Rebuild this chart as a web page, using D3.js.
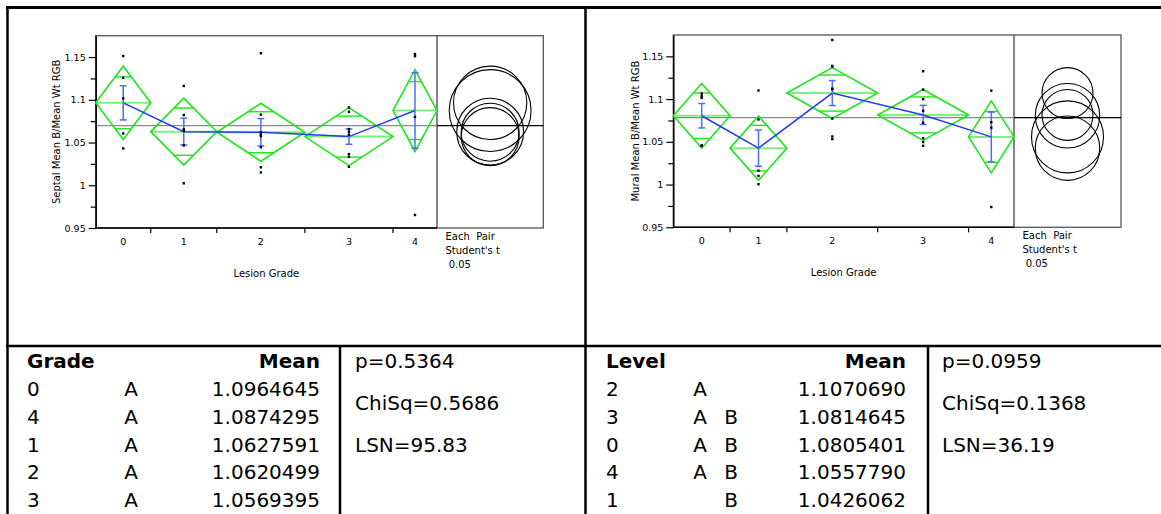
<!DOCTYPE html>
<html>
<head>
<meta charset="utf-8">
<script src="https://cdn.jsdelivr.net/npm/d3@7"></script>
<style>
  body { margin: 0; background: #fff; }
  svg { display: block; }
  text { font-family: "DejaVu Sans", Verdana, sans-serif; fill: #000; }
</style>
</head>
<body>
<svg id="chart" width="1161" height="514"></svg>
<script>
// ---- data -------------------------------------------------------------
const grades = ["0", "1", "2", "3", "4"];

// Septal ratio, individual observations per lesion grade
const septalPoints = [
  [1.1512, 1.1258, 1.1016, 1.0606, 1.0431],
  [1.1162, 1.0822, 1.0655, 1.0636, 1.0467, 1.0023],
  [1.1545, 1.0827, 1.0620, 1.0593, 1.0575, 1.0444, 1.0210, 1.0150],
  [1.0910, 1.0860, 1.0657, 1.0625, 1.0590, 1.0364, 1.0333, 1.0216],
  [1.1535, 1.1510, 1.0800, 0.9652]
];
const septalMeans = [1.0964645, 1.0627591, 1.0620499, 1.0569395, 1.0874295];
const septalCI = [0.0429, 0.0391, 0.0339, 0.0339, 0.0479];   // 95% half width
const septalSE = [0.0200, 0.0157, 0.0160, 0.0090, 0.0442];   // std error

// Mural ratio, individual observations per lesion grade
const muralPoints = [
  [1.1065, 1.1037, 1.1014, 1.0458, 1.0453],
  [1.1101, 1.0762, 1.0163, 1.0100, 1.0004],
  [1.1692, 1.1388, 1.1380, 1.1123, 1.1115, 1.0773, 1.0563, 1.0532],
  [1.1326, 1.1112, 1.0999, 1.0863, 1.0723, 1.0543, 1.0497, 1.0454],
  [1.1099, 1.0729, 1.0666, 0.9737]
];
const muralMeans = [1.0805401, 1.0426062, 1.1070690, 1.0814645, 1.0557790];
const muralCI = [0.0377, 0.0377, 0.0298, 0.0298, 0.0421];
const muralSE = [0.0143, 0.0212, 0.0146, 0.0112, 0.0290];

const yMajor = [0.95, 1, 1.05, 1.1, 1.15];
const yMinor = [0.975, 1.025, 1.075, 1.125];
const yDomain = [0.95, 1.175];

// Connecting-letters report tables
const septalOrder = ["0", "4", "1", "2", "3"];
const septalLetters = ["A", "A", "A", "A", "A"];
const septalStats = ["p=0.5364", "ChiSq=0.5686", "LSN=95.83"];

const muralOrder = ["2", "3", "0", "4", "1"];
const muralLetters = ["A", "AB", "AB", "AB", "B"];
const muralStats = ["p=0.0959", "ChiSq=0.1368", "LSN=36.19"];

// ---- drawing ----------------------------------------------------------
const svg = d3.select("#chart");
const fmt = d3.format(".7f");

const GREEN = "#1ee61e", GREEN_LIGHT = "#7cf07c", BLUE = "#1f3cf5", BLUE_BAR = "#4f6df5";

function drawPanel(cfg) {
  const { x0, x1, xc, top, bottom, points, means, ci, se, yLabel, labelX } = cfg;
  const g = svg.append("g");
  const y = d3.scaleLinear().domain(yDomain).range([bottom, top]);
  const counts = points.map(p => p.length);
  const cum = [0];
  counts.forEach(c => cum.push(cum[cum.length - 1] + c));
  const x = d3.scaleLinear().domain([0, d3.sum(counts)]).range([x0, x1]);
  const grand = d3.mean(points.flat());

  // frame of the means plot and the comparison-circle panel
  g.append("rect").attr("x", x0).attr("y", top).attr("width", xc - x0).attr("height", bottom - top)
    .attr("fill", "none").attr("stroke", "#555").attr("stroke-width", 1.3);
  g.append("line").attr("x1", x1).attr("x2", x1).attr("y1", top).attr("y2", bottom)
    .attr("stroke", "#444").attr("stroke-width", 1.3);

  // grand mean
  g.append("line").attr("x1", x0).attr("x2", x1).attr("y1", y(grand)).attr("y2", y(grand))
    .attr("stroke", "#8a8a8a").attr("stroke-width", 1.2);
  g.append("line").attr("x1", x1).attr("x2", xc).attr("y1", y(grand)).attr("y2", y(grand))
    .attr("stroke", "#000").attr("stroke-width", 1.2);

  // y axis
  const yAxis = d3.axisLeft(y).tickValues(yMajor).tickSize(7).tickSizeOuter(0)
    .tickFormat(d => String(+d.toFixed(2)));
  const ya = g.append("g").attr("transform", `translate(${x0},0)`).call(yAxis);
  ya.select(".domain").attr("stroke", "#000").attr("stroke-width", 1.5);
  ya.selectAll(".tick line").attr("stroke", "#000").attr("stroke-width", 1.2);
  ya.selectAll(".tick text").attr("font-size", 9.5).attr("font-family", "DejaVu Sans").attr("x", -10).attr("fill", "#000");
  const ym = d3.axisLeft(y).tickValues(yMinor).tickSize(5).tickFormat("");
  const ymg = g.append("g").attr("transform", `translate(${x0},0)`).call(ym);
  ymg.select(".domain").remove();
  ymg.selectAll(".tick line").attr("stroke", "#000").attr("stroke-width", 1.2);

  // x axis: boundaries between groups as ticks
  g.append("line").attr("x1", x0).attr("x2", x1).attr("y1", bottom).attr("y2", bottom)
    .attr("stroke", "#000").attr("stroke-width", 1.5);
  g.selectAll(".xb").data(cum.slice(1, -1)).join("line")
    .attr("x1", d => x(d)).attr("x2", d => x(d)).attr("y1", bottom).attr("y2", bottom + 5)
    .attr("stroke", "#000").attr("stroke-width", 1.2);
  g.selectAll(".xl").data(grades).join("text")
    .attr("x", (d, i) => x((cum[i] + cum[i + 1]) / 2)).attr("y", bottom + 17)
    .attr("text-anchor", "middle").attr("font-size", 9.5).text(d => d);

  // axis titles
  g.append("text").attr("x", (x0 + x1) / 2).attr("y", bottom + 49).attr("text-anchor", "middle")
    .attr("font-size", 10).text("Lesion Grade");
  g.append("text").attr("transform", `translate(${labelX},${(top + bottom) / 2}) rotate(-90)`)
    .attr("text-anchor", "middle").attr("dy", "0.35em").attr("font-size", 10).text(yLabel);

  // means diamonds
  grades.forEach((gr, i) => {
    const a = x(cum[i]), b = x(cum[i + 1]), c = (a + b) / 2, m = means[i], h = ci[i];
    const dg = g.append("g");
    dg.append("line").attr("x1", a).attr("x2", b).attr("y1", y(m)).attr("y2", y(m))
      .attr("stroke", GREEN_LIGHT).attr("stroke-width", 2);
    const f = 1 / Math.SQRT2, half = (1 - f) * (b - a) / 2;
    [m + h * f, m - h * f].forEach(v => {
      dg.append("line").attr("x1", c - half).attr("x2", c + half).attr("y1", y(v)).attr("y2", y(v))
        .attr("stroke", GREEN).attr("stroke-width", 1.4);
    });
    dg.append("path")
      .attr("d", d3.line()([[a, y(m)], [c, y(m + h)], [b, y(m)], [c, y(m - h)], [a, y(m)]]) + "Z")
      .attr("fill", "none").attr("stroke", GREEN).attr("stroke-width", 1.6);
  });

  // line through group means
  const centers = grades.map((gr, i) => [x((cum[i] + cum[i + 1]) / 2), y(means[i])]);
  g.append("path").attr("d", d3.line()(centers)).attr("fill", "none")
    .attr("stroke", BLUE).attr("stroke-width", 1.5);

  // std error bars
  grades.forEach((gr, i) => {
    const c = centers[i][0], m = means[i], s = se[i];
    const eb = g.append("g").attr("stroke", BLUE_BAR).attr("stroke-width", 1.5);
    eb.append("line").attr("x1", c).attr("x2", c).attr("y1", y(m - s)).attr("y2", y(m + s));
    [m - s, m + s].forEach(v => eb.append("line").attr("x1", c - 3.5).attr("x2", c + 3.5)
      .attr("y1", y(v)).attr("y2", y(v)));
  });

  // observations
  grades.forEach((gr, i) => {
    const c = centers[i][0];
    g.selectAll(null).data(points[i]).join("rect")
      .attr("x", c - 1.2).attr("y", d => y(d) - 1.2).attr("width", 2.4).attr("height", 2.4)
      .attr("fill", "#000");
  });

  // comparison circles
  const cx = (x1 + xc) / 2;
  grades.forEach((gr, i) => {
    const r = y(means[i] - ci[i]) - y(means[i]);
    g.append("circle").attr("cx", cx).attr("cy", y(means[i])).attr("r", r)
      .attr("fill", "none").attr("stroke", "#000").attr("stroke-width", 1.1);
  });

  // test caption
  const cap = g.append("text").attr("font-size", 10).attr("xml:space", "preserve")
    .style("white-space", "pre");
  ["Each  Pair", "Student's t", " 0.05"].forEach((t, k) => {
    cap.append("tspan").attr("x", x1 + 8.5).attr("y", bottom + 11.5 + k * 14).text(t);
  });
}

drawPanel({ x0: 95.7, x1: 437, xc: 543.3, top: 35.7, bottom: 228,
  points: septalPoints, means: septalMeans, ci: septalCI, se: septalSE,
  yLabel: "Septal Mean B/Mean Wt RGB", labelX: 56 });
drawPanel({ x0: 673.3, x1: 1014, xc: 1121, top: 35, bottom: 227.3,
  points: muralPoints, means: muralMeans, ci: muralCI, se: muralSE,
  yLabel: "Mural Mean B/Mean Wt RGB", labelX: 635.5 });

// ---- layout rules -----------------------------------------------------
const rule = (x1, y1, x2, y2, w) => svg.append("line").attr("x1", x1).attr("y1", y1)
  .attr("x2", x2).attr("y2", y2).attr("stroke", "#000").attr("stroke-width", w);
rule(6, 7.5, 1161, 7.5, 3);
rule(7.5, 6, 7.5, 514, 2.5);
rule(585.5, 6, 585.5, 514, 2.5);
rule(6, 346, 1161, 346, 2.5);
rule(340, 346, 340, 514, 2.5);
rule(928, 346, 928, 514, 2.5);

// ---- report tables ----------------------------------------------------
function drawTable(cfg) {
  const { left, headLabel, letterX, meanRight, statX, order, letters, means, stats } = cfg;
  const g = svg.append("g");
  const row0 = 361, step = 27.8, fs = 20;
  g.append("text").attr("x", left).attr("y", row0).attr("dy", "0.36em")
    .attr("font-weight", "bold").attr("font-size", fs).text(headLabel);
  g.append("text").attr("x", meanRight).attr("y", row0).attr("dy", "0.36em")
    .attr("text-anchor", "end").attr("font-weight", "bold").attr("font-size", fs).text("Mean");
  order.forEach((lv, k) => {
    const yy = row0 + (k + 1) * step;
    g.append("text").attr("x", left).attr("y", yy).attr("dy", "0.36em").attr("font-size", fs).text(lv);
    letters[k].split("").forEach(L => {
      g.append("text").attr("x", letterX[L]).attr("y", yy).attr("dy", "0.36em")
        .attr("text-anchor", "middle").attr("font-size", fs).text(L);
    });
    const gi = grades.indexOf(lv);
    g.append("text").attr("x", meanRight).attr("y", yy).attr("dy", "0.36em")
      .attr("text-anchor", "end").attr("font-size", fs).text(fmt(means[gi]));
  });
  stats.forEach((s, k) => {
    g.append("text").attr("x", statX).attr("y", row0 + k * 1.5 * step).attr("dy", "0.36em")
      .attr("font-size", fs).text(s);
  });
}

drawTable({ left: 27, headLabel: "Grade", letterX: { A: 131, B: 162 }, meanRight: 320, statX: 355,
  order: septalOrder, letters: septalLetters, means: septalMeans, stats: septalStats });
drawTable({ left: 606, headLabel: "Level", letterX: { A: 700, B: 731 }, meanRight: 906, statX: 942,
  order: muralOrder, letters: muralLetters, means: muralMeans, stats: muralStats });
</script>
</body>
</html>
